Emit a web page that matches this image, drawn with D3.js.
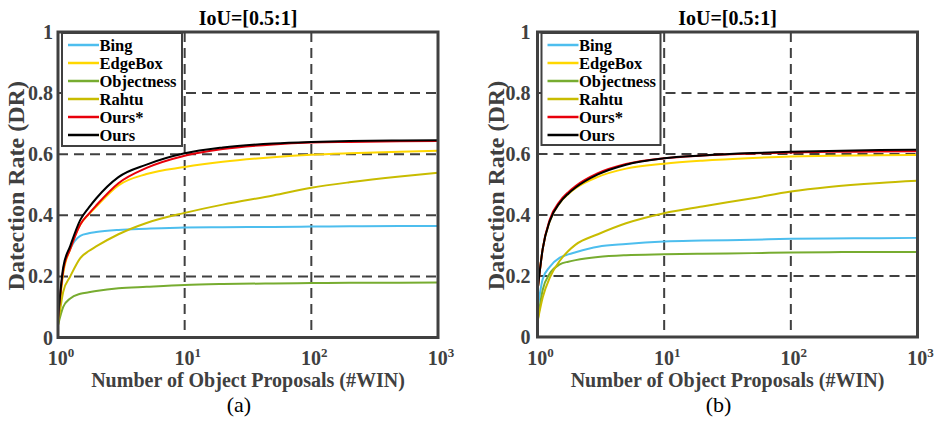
<!DOCTYPE html>
<html><head><meta charset="utf-8">
<script src="https://cdn.jsdelivr.net/npm/d3@7"></script>
<style>body{margin:0;background:#fff}svg{display:block}</style>
</head><body>
<svg id="chart" width="935" height="421"></svg>
<script>
// ---------- DATA ----------
const seriesNames = ["Bing", "EdgeBox", "Objectness", "Rahtu", "Ours*", "Ours"];
const seriesColors = ["#4DBEEE", "#FFD700", "#77AC30", "#C8BC00", "#E8000B", "#000000"];
const proposals = [1, 1.1, 1.25, 1.5, 1.75, 2, 3, 5, 10, 20, 50, 100, 200, 500, 1000];

const aBing       = [0.06, 0.22, 0.29, 0.333, 0.341, 0.345, 0.352, 0.356, 0.360, 0.361, 0.362, 0.363, 0.364, 0.365, 0.365];
const aEdgeBox    = [0.05, 0.21, 0.29, 0.370, 0.403, 0.428, 0.498, 0.535, 0.558, 0.575, 0.590, 0.598, 0.603, 0.608, 0.611];
const aObjectness = [0.04, 0.10, 0.128, 0.143, 0.148, 0.152, 0.161, 0.166, 0.172, 0.175, 0.177, 0.178, 0.179, 0.179, 0.180];
const aRahtu      = [0.04, 0.15, 0.20, 0.260, 0.283, 0.298, 0.338, 0.375, 0.408, 0.435, 0.465, 0.490, 0.508, 0.527, 0.539];
const aOursStar   = [0.06, 0.22, 0.29, 0.370, 0.405, 0.432, 0.505, 0.555, 0.595, 0.617, 0.632, 0.638, 0.640, 0.642, 0.643];
const aOurs       = [0.064, 0.23, 0.30, 0.385, 0.425, 0.455, 0.525, 0.566, 0.603, 0.622, 0.635, 0.640, 0.643, 0.645, 0.646];

const bBing       = [0.09, 0.19, 0.23, 0.260, 0.271, 0.278, 0.296, 0.305, 0.313, 0.316, 0.319, 0.322, 0.323, 0.324, 0.325];
const bEdgeBox    = [0.15, 0.29, 0.38, 0.440, 0.469, 0.488, 0.525, 0.552, 0.568, 0.578, 0.587, 0.592, 0.594, 0.596, 0.597];
const bObjectness = [0.05, 0.155, 0.208, 0.238, 0.247, 0.252, 0.262, 0.268, 0.271, 0.273, 0.275, 0.277, 0.278, 0.279, 0.279];
const bRahtu      = [0.05, 0.13, 0.195, 0.250, 0.282, 0.303, 0.337, 0.373, 0.406, 0.428, 0.455, 0.477, 0.492, 0.505, 0.512];
const bOursStar   = [0.15, 0.29, 0.385, 0.445, 0.475, 0.495, 0.537, 0.567, 0.586, 0.595, 0.602, 0.605, 0.607, 0.608, 0.609];
const bOurs       = [0.15, 0.29, 0.38, 0.440, 0.470, 0.490, 0.533, 0.565, 0.586, 0.595, 0.603, 0.607, 0.610, 0.613, 0.614];

const xTickExps = [0, 1, 2, 3];
const yTicks = [0, 0.2, 0.4, 0.6, 0.8, 1];
const yTickLabels = ["0", "0.2", "0.4", "0.6", "0.8", "1"];
const gridX = [10, 100];
const gridY = [0.2, 0.4, 0.6, 0.8];
const titleText = "IoU=[0.5:1]";
const xLabelText = "Number of Object Proposals (#WIN)";
const yLabelText = "Datection Rate (DR)";
const panelLabels = ["(a)", "(b)"];

// ---------- DRAW ----------
const svg = d3.select("#chart");
const FONT = "'Liberation Serif','Times New Roman',serif";
const GRAY = "#404040";

const panels = [
  {left: 58, right: 438, top: 32, bottom: 337.5, series: [aBing, aEdgeBox, aObjectness, aRahtu, aOursStar, aOurs],
   ylabX: 16, legend: {x: 62, y: 33, w: 120, h: 113}, label: panelLabels[0], tickGap: 5},
  {left: 537.5, right: 917.5, top: 32, bottom: 337, series: [bBing, bEdgeBox, bObjectness, bRahtu, bOursStar, bOurs],
   ylabX: 496, legend: {x: 541.5, y: 33, w: 119, h: 112}, label: panelLabels[1], tickGap: 7}
];

panels.forEach(p => {
  const x = d3.scaleLog().domain([1, 1000]).range([p.left, p.right]);
  const y = d3.scaleLinear().domain([0, 1]).range([p.bottom, p.top]);
  const g = svg.append("g");

  // grid
  g.selectAll(".gx").data(gridX).join("line")
    .attr("x1", d => x(d)).attr("x2", d => x(d)).attr("y1", p.top).attr("y2", p.bottom)
    .attr("stroke", GRAY).attr("stroke-width", 2).attr("stroke-dasharray", "10,6");
  g.selectAll(".gy").data(gridY).join("line")
    .attr("x1", p.left).attr("x2", p.right).attr("y1", d => y(d)).attr("y2", d => y(d))
    .attr("stroke", GRAY).attr("stroke-width", 2).attr("stroke-dasharray", "10,6");

  // curves
  const line = d3.line().x((d, i) => x(proposals[i])).y(d => y(d)).curve(d3.curveMonotoneX);
  p.series.forEach((vals, i) => {
    g.append("path").datum(vals).attr("d", line)
      .attr("fill", "none").attr("stroke", seriesColors[i]).attr("stroke-width", 2);
  });

  // legend
  const L = p.legend;
  g.append("rect").attr("x", L.x).attr("y", L.y).attr("width", L.w).attr("height", L.h)
    .attr("fill", "#fff").attr("stroke", GRAY).attr("stroke-width", 2);
  seriesNames.forEach((name, i) => {
    const cy = L.y + 12 + i * 18;
    g.append("line").attr("x1", L.x + 6).attr("x2", L.x + 37).attr("y1", cy).attr("y2", cy)
      .attr("stroke", seriesColors[i]).attr("stroke-width", 2.5);
    g.append("text").attr("x", L.x + 37.5).attr("y", cy + 5.5).text(name)
      .attr("font-family", FONT).attr("font-weight", "bold").attr("font-size", 16.5).attr("fill", "#000");
  });

  // axis box
  g.append("rect").attr("x", p.left).attr("y", p.top).attr("width", p.right - p.left).attr("height", p.bottom - p.top)
    .attr("fill", "none").attr("stroke", GRAY).attr("stroke-width", 3);

  // y ticks
  g.selectAll(".yt").data(yTicks).join("text")
    .attr("x", p.left - p.tickGap).attr("y", d => y(d) + 7).attr("text-anchor", "end")
    .attr("font-family", FONT).attr("font-weight", "bold").attr("font-size", 20).attr("fill", GRAY)
    .text((d, i) => yTickLabels[i]);

  // x ticks
  xTickExps.forEach(e => {
    const t = g.append("text").attr("x", x(Math.pow(10, e)) + 3).attr("y", p.bottom + 27.5).attr("text-anchor", "middle")
      .attr("font-family", FONT).attr("font-weight", "bold").attr("font-size", 20).attr("fill", GRAY);
    t.append("tspan").text("10");
    t.append("tspan").attr("font-size", 13).attr("dy", -8).text(String(e));
  });

  // title
  g.append("text").attr("x", (p.left + p.right) / 2).attr("y", 25).attr("text-anchor", "middle")
    .attr("font-family", FONT).attr("font-weight", "bold").attr("font-size", 20).attr("fill", "#000").text(titleText);

  // x label
  g.append("text").attr("x", (p.left + p.right) / 2).attr("y", 387).attr("text-anchor", "middle")
    .attr("font-family", FONT).attr("font-weight", "bold").attr("font-size", 20).attr("fill", GRAY).text(xLabelText);

  // y label
  g.append("text").attr("transform", `translate(${p.ylabX},${(p.top + p.bottom) / 2 + 1}) rotate(-90)`)
    .attr("text-anchor", "middle").attr("dy", 8)
    .attr("font-family", FONT).attr("font-weight", "bold").attr("font-size", 24).attr("fill", GRAY).text(yLabelText);

  // panel label
  g.append("text").attr("x", (p.left + p.right) / 2 - 9).attr("y", 412).attr("text-anchor", "middle")
    .attr("font-family", FONT).attr("font-size", 22).attr("fill", "#000").text(p.label);
});
</script>
</body></html>
